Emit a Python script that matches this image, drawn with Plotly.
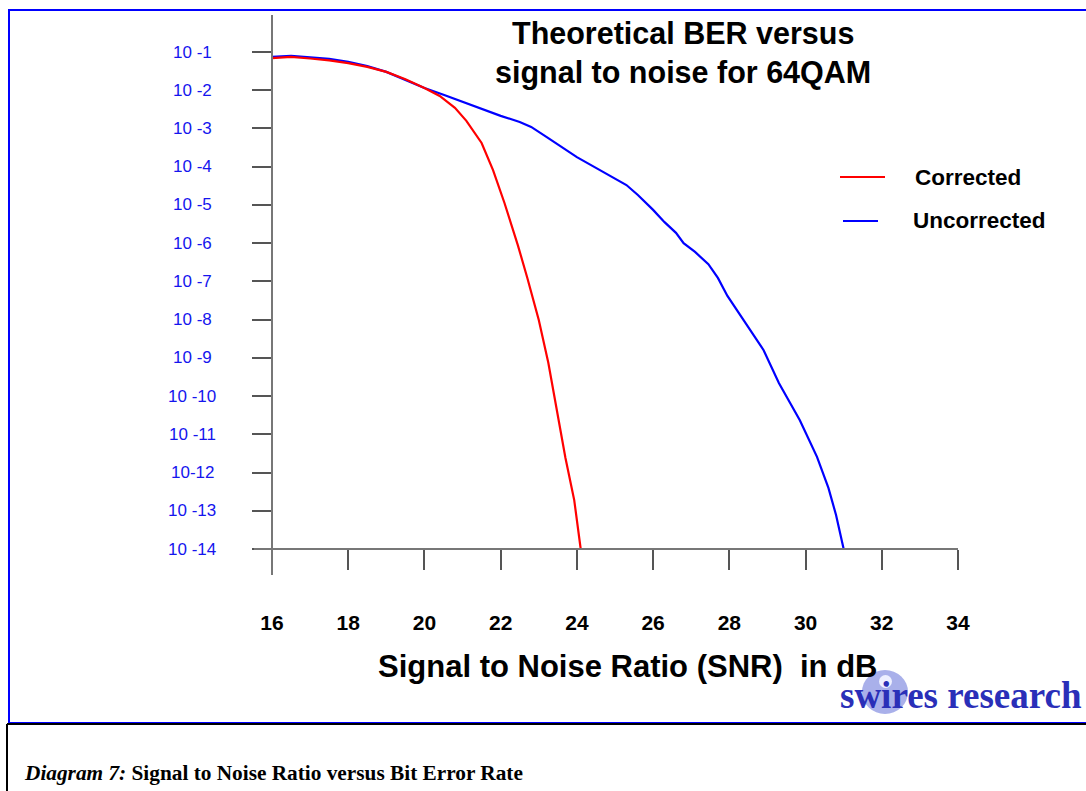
import plotly.graph_objects as go

# ---- data (BER exponents, log10) ----
snr_corrected = [16.0, 16.5, 17.0, 17.5, 18.0, 18.5, 19.0, 19.5, 20.0, 20.4, 20.8, 21.1,
                 21.5, 21.8, 22.1, 22.45, 22.7, 23.0, 23.25, 23.45, 23.7, 23.93, 24.1]
ber_exp_corrected = [-1.16, -1.13, -1.17, -1.22, -1.29, -1.39, -1.52, -1.71, -1.94, -2.15, -2.46, -2.8,
                     -3.38, -4.09, -4.95, -6.05, -6.91, -8.01, -9.13, -10.23, -11.62, -12.72, -14.0]

snr_uncorrected = [16.0, 16.5, 17.0, 17.5, 18.0, 18.5, 19.0, 19.5, 20.0, 20.5, 21.0, 21.5, 22.0, 22.5,
                   22.8, 23.2, 23.6, 24.0, 24.5, 25.0, 25.3, 25.6, 26.0, 26.3, 26.6, 26.8, 27.1,
                   27.45, 27.7, 27.95, 28.4, 28.9, 29.3, 29.85, 30.3, 30.6, 30.8, 31.0]
ber_exp_uncorrected = [-1.13, -1.1, -1.14, -1.18, -1.26, -1.37, -1.52, -1.73, -1.94, -2.12, -2.31, -2.49,
                       -2.67, -2.83, -2.96, -3.22, -3.48, -3.75, -4.03, -4.3, -4.48, -4.74, -5.13, -5.45,
                       -5.73, -6.0, -6.23, -6.55, -6.91, -7.38, -8.06, -8.8, -9.66, -10.63, -11.59,
                       -12.4, -13.11, -14.0]

x_ticks = [16, 18, 20, 22, 24, 26, 28, 30, 32, 34]
y_exps = list(range(-1, -15, -1))
y_tick_labels = ["10 -1", "10 -2", "10 -3", "10 -4", "10 -5", "10 -6", "10 -7", "10 -8", "10 -9",
                 "10 -10", "10 -11", "10-12", "10 -13", "10 -14"]

W, H = 1086, 791
def px(x): return x / W
def py(y): return 1 - y / H

FONT = "Liberation Sans, Arial, sans-serif"
NARROW = "Liberation Sans Narrow, Arial Narrow, Liberation Sans, sans-serif"
SERIF = "Liberation Serif, Times New Roman, serif"

fig = go.Figure()
fig.add_trace(go.Scatter(x=snr_uncorrected, y=[10 ** e for e in ber_exp_uncorrected], mode="lines",
                         line=dict(color="#0000ff", width=2.2), name="Uncorrected", showlegend=False))
fig.add_trace(go.Scatter(x=snr_corrected, y=[10 ** e for e in ber_exp_corrected], mode="lines",
                         line=dict(color="#ff0000", width=2.2), name="Corrected", showlegend=False))

shapes = []
# outer blue frame
shapes.append(dict(type="rect", xref="paper", yref="paper", x0=px(9), x1=px(1095), y0=py(723), y1=py(10),
                   line=dict(color="#0000ff", width=2)))
# caption box (black)
shapes.append(dict(type="line", xref="paper", yref="paper", x0=px(7), x1=px(1090), y0=py(724), y1=py(724),
                   line=dict(color="#000000", width=2)))
shapes.append(dict(type="line", xref="paper", yref="paper", x0=px(7), x1=px(7), y0=py(724), y1=py(795),
                   line=dict(color="#000000", width=2)))
# axis lines
shapes.append(dict(type="line", xref="paper", yref="paper", x0=px(272), x1=px(272), y0=py(15), y1=py(575),
                   line=dict(color="#777777", width=2)))
shapes.append(dict(type="line", xref="paper", yref="paper", x0=px(254), x1=px(958), y0=py(549), y1=py(549),
                   line=dict(color="#777777", width=2)))
# legend lines
shapes.append(dict(type="line", xref="paper", yref="paper", x0=px(840), x1=px(885), y0=py(177), y1=py(177),
                   line=dict(color="#ff0000", width=2)))
shapes.append(dict(type="line", xref="paper", yref="paper", x0=px(843), x1=px(878), y0=py(221), y1=py(221),
                   line=dict(color="#0000ff", width=2)))
# logo circle
shapes.append(dict(type="circle", xref="paper", yref="paper", x0=px(862), x1=px(908), y0=py(714), y1=py(670),
                   fillcolor="#a9b0ea", line=dict(width=0), layer="below"))
shapes.append(dict(type="circle", xref="paper", yref="paper", x0=px(879), x1=px(892), y0=py(688), y1=py(675),
                   fillcolor="#eef0ff", line=dict(width=0), layer="below"))

ann = []
for e, t in zip(y_exps, y_tick_labels):
    ann.append(dict(xref="paper", yref="y", x=px(192), y=e, text=t, showarrow=False, xanchor="center",
                    yanchor="middle", font=dict(family=FONT, size=17, color="#1515ee")))
ann.append(dict(xref="paper", yref="paper", x=px(683), y=py(33), text="<b>Theoretical BER versus</b>",
                showarrow=False, xanchor="center", yanchor="middle", font=dict(family=FONT, size=30.5, color="#000")))
ann.append(dict(xref="paper", yref="paper", x=px(683), y=py(73), text="<b>signal to noise for 64QAM</b>",
                showarrow=False, xanchor="center", yanchor="middle", font=dict(family=FONT, size=30.5, color="#000")))
ann.append(dict(xref="paper", yref="paper", x=px(627), y=py(666), text="<b>Signal to Noise Ratio (SNR)&nbsp; in dB</b>",
                showarrow=False, xanchor="center", yanchor="middle", font=dict(family=FONT, size=31, color="#000")))
ann.append(dict(xref="paper", yref="paper", x=px(913), y=py(177), text="<b>Corrected</b>",
                showarrow=False, xanchor="left", yanchor="middle", font=dict(family=FONT, size=22.5, color="#000")))
ann.append(dict(xref="paper", yref="paper", x=px(911), y=py(221), text="<b>Uncorrected</b>",
                showarrow=False, xanchor="left", yanchor="middle", font=dict(family=FONT, size=22.5, color="#000")))
ann.append(dict(xref="paper", yref="paper", x=px(1084), y=py(695), text="<b>swires research</b>",
                showarrow=False, xanchor="right", yanchor="middle", font=dict(family=SERIF, size=37, color="#2a2fb8")))
ann.append(dict(xref="paper", yref="paper", x=px(22), y=py(773),
                text="<b><i>Diagram 7:</i> Signal to Noise Ratio versus Bit Error Rate</b>",
                showarrow=False, xanchor="left", yanchor="middle", font=dict(family=SERIF, size=21.3, color="#000")))

fig.update_layout(
    template="none",
    width=W, height=H, autosize=False, margin=dict(l=0, r=0, t=0, b=0, pad=0),
    paper_bgcolor="white", plot_bgcolor="white",
    shapes=shapes, annotations=ann, showlegend=False,
    xaxis=dict(domain=[px(272), px(958)], range=[16, 34], tickvals=x_ticks, automargin=False,
               ticktext=[str(v) for v in x_ticks], ticks="outside", ticklen=20, tickwidth=1.5,
               tickcolor="#555555", showline=False, showgrid=False, zeroline=False,
               ticklabelstandoff=35, tickfont=dict(family=NARROW, size=21, color="#000", weight="bold")),
    yaxis=dict(domain=[py(549), py(52)], type="log", range=[-14, -1], tickvals=[10 ** e for e in y_exps],
               automargin=False, ticks="outside", ticklen=19, tickwidth=1.5, tickcolor="#555555",
               showticklabels=False, showline=False, showgrid=False, zeroline=False),
)

fig.write_html("out.html", config={"displayModeBar": False},
               post_script="document.body.style.margin='0';document.body.style.overflow='hidden';"
                           "document.documentElement.style.overflow='hidden';")
